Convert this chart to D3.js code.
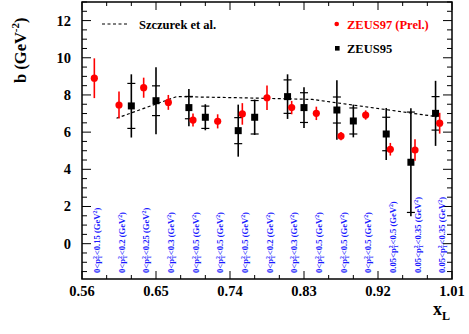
<!DOCTYPE html>
<html>
<head>
<meta charset="utf-8">
<script src="https://cdn.jsdelivr.net/npm/d3@7"></script>
<style>
html,body{margin:0;padding:0;background:#fff;}
svg{display:block;font-family:"Liberation Serif","Times New Roman",serif;font-weight:bold;}
</style>
</head>
<body>
<svg id="chart" width="469" height="334"></svg>
<script>
// ZEUS97 (Prel.)
const redX = [0.575,0.605,0.635,0.665,0.695,0.725,0.755,0.785,0.815,0.845,0.875,0.905,0.935,0.965,0.995];
const redY = [8.9,7.46,8.39,7.6,6.65,6.58,6.98,7.85,7.32,7.01,5.79,6.92,5.08,5.04,6.48];
const redErr = [1.07,0.72,0.54,0.4,0.35,0.38,0.58,0.66,0.36,0.36,0.22,0.25,0.34,0.58,0.56];
// ZEUS95
const blackX = [0.62,0.65,0.69,0.71,0.75,0.77,0.81,0.83,0.87,0.89,0.93,0.96,0.99];
const blackY = [7.41,7.69,7.32,6.8,6.08,6.8,7.91,7.32,7.19,6.6,5.9,4.38,7.01];
const blackStat = [1.21,0.8,0.6,0.6,0.7,0.9,0.9,0.8,0.7,0.7,0.9,2.7,0.9];
const blackTot = [1.7,1.8,1.0,0.7,1.4,0.95,1.2,1.1,1.6,0.88,1.4,2.9,1.75];
// Szczurek et al.
const theoryX = [0.602,0.675,0.74,0.80,0.84,0.992];
const theoryY = [6.75,7.91,7.86,7.80,7.76,6.83];
// pT^2 range labels (per ZEUS97 bin)
const ptLow = ["0","0","0","0","0","0","0","0","0","0","0","0","0.05","0.05","0.05"];
const ptHigh = ["0.15","0.2","0.25","0.3","0.5","0.5","0.5","0.2","0.3","0.5","0.5","0.5","0.5","0.35","0.35"];
// axis ticks
const xTicks = [0.56,0.65,0.74,0.83,0.92,1.01];
const yTicks = [0,2,4,6,8,10,12];

const svg = d3.select("#chart");
const L=82, R=452, T=2, B=279;
const x = d3.scaleLinear().domain([0.56,1.01]).range([L,R]);
const y = d3.scaleLinear().domain([-1.9,13]).range([B,T]);

// frame
svg.append("rect").attr("x",L).attr("y",T).attr("width",R-L).attr("height",B-T)
  .attr("fill","none").attr("stroke","#000").attr("stroke-width",1.5);

// ticks
const xMinor = d3.range(0,16).map(i=>+(0.56+0.03*i).toFixed(2));
const yMinor = d3.range(-3,27).map(i=>i*0.5);
const tk = svg.append("g").attr("stroke","#000").attr("stroke-width",1);
xMinor.forEach(v=>{
  const maj = xTicks.some(t=>Math.abs(t-v)<1e-6);
  const len = maj?8:4;
  tk.append("line").attr("x1",x(v)).attr("x2",x(v)).attr("y1",B).attr("y2",B-len);
  tk.append("line").attr("x1",x(v)).attr("x2",x(v)).attr("y1",T).attr("y2",T+len);
});
yMinor.forEach(v=>{
  if (y(v)>B || y(v)<T) return;
  const maj = v%2===0;
  const len = maj?9:5;
  tk.append("line").attr("x1",L).attr("x2",L+len).attr("y1",y(v)).attr("y2",y(v));
  tk.append("line").attr("x1",R).attr("x2",R-len).attr("y1",y(v)).attr("y2",y(v));
});

// tick labels
svg.append("g").selectAll("text").data(xTicks).join("text")
  .attr("x",d=>x(d)).attr("y",296).attr("text-anchor","middle")
  .attr("font-size",14.5).text(d=>d.toFixed(2));
svg.append("g").selectAll("text").data(yTicks).join("text")
  .attr("x",71).attr("y",d=>y(d)+5).attr("text-anchor","end")
  .attr("font-size",14.5).text(d=>d);

// axis titles
const yt = svg.append("text").attr("transform","translate(25.5,83) rotate(-90)")
  .attr("font-size",16.5);
yt.append("tspan").text("b (GeV");
yt.append("tspan").attr("font-size",11).attr("dy",-7).text("-2");
yt.append("tspan").attr("dy",7).text(")");
const xt = svg.append("text").attr("x",433).attr("y",315).attr("font-size",18);
xt.append("tspan").text("x");
xt.append("tspan").attr("font-size",12).attr("dy",5).text("L");

// pT labels
redX.forEach((v,i)=>{
  const t = svg.append("text").attr("transform",`translate(${x(v)+5.5},273) rotate(-90)`)
    .attr("font-size",8.6).attr("fill","#1a1aff");
  t.append("tspan").text(ptLow[i]+"<p");
  t.append("tspan").attr("font-size",5.8).attr("dy",-3).text("2");
  t.append("tspan").attr("font-size",5.8).attr("dx",-2.9).attr("dy",5).text("T");
  t.append("tspan").attr("dy",-2).text("<"+ptHigh[i]+" (GeV");
  t.append("tspan").attr("font-size",5.8).attr("dy",-3).text("2");
  t.append("tspan").attr("dy",3).text(")");
});

// theory dashed line
svg.append("path").datum(theoryX.map((v,i)=>[v,theoryY[i]]))
  .attr("d",d3.line().x(d=>x(d[0])).y(d=>y(d[1])))
  .attr("fill","none").attr("stroke","#000").attr("stroke-width",1.2)
  .attr("stroke-dasharray","3,2.5");

// ZEUS95 black
const bg = svg.append("g");
blackX.forEach((v,i)=>{
  const cx = x(v);
  bg.append("line").attr("x1",cx).attr("x2",cx)
    .attr("y1",y(blackY[i]+blackTot[i])).attr("y2",y(blackY[i]-blackTot[i]))
    .attr("stroke","#000").attr("stroke-width",1.6);
  [blackY[i]+blackStat[i], blackY[i]-blackStat[i]].forEach(e=>{
    bg.append("line").attr("x1",cx-4).attr("x2",cx+4).attr("y1",y(e)).attr("y2",y(e))
      .attr("stroke","#000").attr("stroke-width",1.2);
  });
  bg.append("rect").attr("x",cx-3.5).attr("y",y(blackY[i])-3.5).attr("width",7).attr("height",7)
    .attr("fill","#000");
});

// ZEUS97 red
const rg = svg.append("g");
redX.forEach((v,i)=>{
  const cx = x(v);
  rg.append("line").attr("x1",cx).attr("x2",cx)
    .attr("y1",y(redY[i]+redErr[i])).attr("y2",y(redY[i]-redErr[i]))
    .attr("stroke","#ff0000").attr("stroke-width",1.6);
  rg.append("circle").attr("cx",cx).attr("cy",y(redY[i])).attr("r",3.6).attr("fill","#ff0000");
});

// legend
svg.append("line").attr("x1",102).attr("x2",128).attr("y1",24).attr("y2",24)
  .attr("stroke","#000").attr("stroke-width",1.2).attr("stroke-dasharray","3,2.5");
svg.append("text").attr("x",139).attr("y",28.5).attr("font-size",12.5).text("Szczurek et al.");
svg.append("circle").attr("cx",336.7).attr("cy",24).attr("r",2.3).attr("fill","#ff0000");
svg.append("text").attr("x",347).attr("y",28.5).attr("font-size",12.5).attr("fill","#ff0000").text("ZEUS97 (Prel.)");
svg.append("rect").attr("x",335).attr("y",46).attr("width",4.6).attr("height",4.6).attr("fill","#000");
svg.append("text").attr("x",347).attr("y",52.5).attr("font-size",12.5).text("ZEUS95");
</script>
</body>
</html>
